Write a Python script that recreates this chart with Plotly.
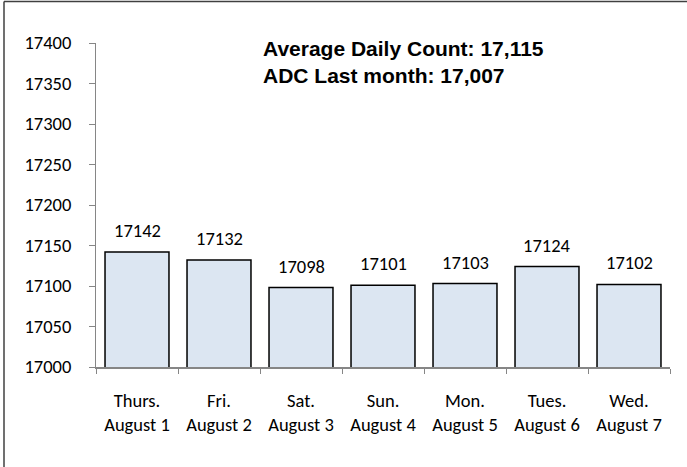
import plotly.graph_objects as go

days = ["Thurs.", "Fri.", "Sat.", "Sun.", "Mon.", "Tues.", "Wed."]
dates = ["August 1", "August 2", "August 3", "August 4", "August 5", "August 6", "August 7"]
counts = [17142, 17132, 17098, 17101, 17103, 17124, 17102]
y_ticks = [17000, 17050, 17100, 17150, 17200, 17250, 17300, 17350, 17400]
y_tick_labels = ["17000", "17050", "17100", "17150", "17200", "17250", "17300", "17350", "17400"]
headline = ["Average Daily Count: 17,115", "ADC Last month: 17,007"]

cats = [f"{d}<br>{t}" for d, t in zip(days, dates)]
tick_font = dict(family="Carlito, Lato, sans-serif", size=18.5, color="#000000")

fig = go.Figure()
fig.add_trace(go.Bar(
    x=cats, y=counts,
    marker=dict(color="#DCE6F2", line=dict(color="#000000", width=1.5)),
    hoverinfo="skip",
))

for c, v in zip(cats, counts):
    fig.add_annotation(x=c, y=v, text=str(v), showarrow=False, yanchor="bottom",
                       yshift=8, font=tick_font)

fig.add_annotation(xref="paper", yref="paper", x=0.288, y=0.983, xanchor="left",
                   yanchor="middle", text="<b>" + headline[0] + "</b>", showarrow=False,
                   font=dict(family="Liberation Sans, Arial", size=21, color="#000000"))
fig.add_annotation(xref="paper", yref="paper", x=0.288, y=0.9, xanchor="left",
                   yanchor="middle", text="<b>" + headline[1] + "</b>", showarrow=False,
                   font=dict(family="Liberation Sans, Arial", size=21, color="#000000"))

# outer chart border: only the left and top edges are inside the picture
bx0 = (4 - 96) / 574
by1 = 1 + (43 - 1.5) / 324
fig.add_shape(type="line", xref="paper", yref="paper", x0=bx0, x1=bx0,
              y0=(367 - 480) / 324, y1=by1, line=dict(color="#404040", width=1.5))
fig.add_shape(type="line", xref="paper", yref="paper", x0=bx0, x1=(700 - 96) / 574,
              y0=by1, y1=by1, line=dict(color="#404040", width=1.5))

fig.update_layout(
    width=687, height=467,
    margin=dict(l=96, r=17, t=43, b=100),
    paper_bgcolor="white", plot_bgcolor="white",
    bargap=0.22, showlegend=False,
)
fig.update_yaxes(range=[17000, 17400], tickvals=y_ticks, ticktext=y_tick_labels,
                 showgrid=False, showline=True, linecolor="#868686", linewidth=1,
                 ticks="outside", ticklen=6, tickcolor="#868686",
                 tickfont=tick_font, ticklabelstandoff=14, zeroline=False)
fig.update_xaxes(showgrid=False, showline=True, linecolor="#868686", linewidth=1.5,
                 ticks="outside", ticklen=5, tickcolor="#868686", tickson="boundaries",
                 tickfont=tick_font, ticklabelstandoff=16)

fig.write_html("out.html", config={"displayModeBar": False},
               post_script="document.body.style.margin='0';document.body.style.overflow='hidden';"
                           "document.documentElement.style.overflow='hidden';")
